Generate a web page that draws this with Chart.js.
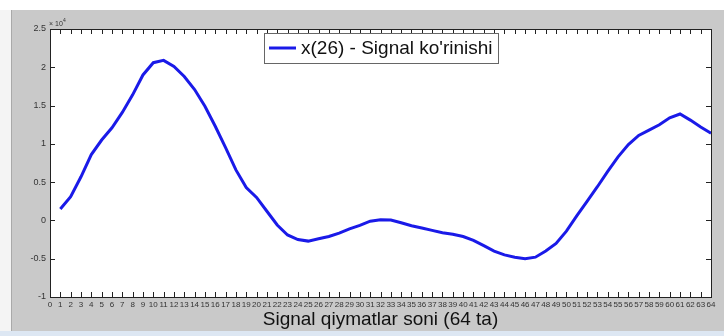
<!DOCTYPE html>
<html>
<head>
<meta charset="utf-8">
<script src="https://cdn.jsdelivr.net/npm/chart.js@4.4.1/dist/chart.umd.min.js"></script>
<style>
  html, body { margin: 0; padding: 0; background: #c9c9c9; }
  #wrap { width: 724px; height: 336px; }
</style>
</head>
<body>
<div id="wrap"><canvas id="chart" width="724" height="336"></canvas></div>
<script>
// signal samples, index 1..64 (raw values, axis shows them x 10^4)
const sampleIdx = [];
for (let i = 1; i <= 64; i++) sampleIdx.push(i);
const signalVals = [
  1500, 3100, 5700, 8600, 10500, 12100, 14100, 16400, 19000, 20600,
  20900, 20100, 18800, 17100, 14900, 12300, 9500, 6600, 4300, 3000,
  1200, -600, -1900, -2500, -2700, -2400, -2100, -1650, -1100, -650,
  -100, 100, 50, -300, -700, -1000, -1300, -1600, -1800, -2100,
  -2600, -3300, -4000, -4500, -4800, -5000, -4800, -4000, -3000, -1400,
  600, 2500, 4400, 6400, 8300, 9900, 11100, 11800, 12500, 13400,
  13900, 13100, 12200, 11400
];
const seriesName = "x(26) - Signal ko'rinishi";
const xTitle = 'Signal qiymatlar soni (64 ta)';
const yMin = -10000, yMax = 25000, yStep = 5000;
const xMin = 0, xMax = 64;
const lineColor = 'rgb(26,26,232)';
const FONT = '"Liberation Sans", Arial, sans-serif';

const points = sampleIdx.map((x, i) => ({ x: x, y: signalVals[i] }));

const frame = { // background, box, inward ticks, legend, exponent
  id: 'frame',
  beforeDraw(chart) {
    const c = chart.ctx, a = chart.chartArea;
    c.save();
    c.fillStyle = '#c9c9c9';
    c.fillRect(0, 0, chart.width, chart.height);
    c.fillStyle = '#ffffff';
    c.fillRect(0, 0, chart.width, 10);
    c.fillStyle = '#f4f4f4';
    c.fillRect(0, 10, 11, chart.height - 10);
    c.fillStyle = '#a9a9a9';
    c.fillRect(11, 10, 1, chart.height - 10);
    c.fillStyle = '#dde7f3';
    c.fillRect(0, 331, chart.width, 5);
    c.fillStyle = '#ffffff';
    c.fillRect(a.left, a.top, a.right - a.left, a.bottom - a.top);
    c.restore();
  },
  afterDraw(chart) {
    const c = chart.ctx, a = chart.chartArea;
    const xs = chart.scales.x, ys = chart.scales.y;
    c.save();
    c.strokeStyle = '#222';
    c.lineWidth = 1;
    c.beginPath();
    xs.ticks.forEach(t => {
      const px = Math.round(xs.getPixelForValue(t.value)) + 0.5;
      c.moveTo(px, a.bottom); c.lineTo(px, a.bottom - 5);
      c.moveTo(px, a.top); c.lineTo(px, a.top + 5);
    });
    ys.ticks.forEach(t => {
      const py = Math.round(ys.getPixelForValue(t.value)) + 0.5;
      c.moveTo(a.left, py); c.lineTo(a.left + 5, py);
      c.moveTo(a.right, py); c.lineTo(a.right - 5, py);
    });
    c.stroke();
    c.strokeRect(Math.round(a.left) + 0.5, Math.round(a.top) + 0.5,
      Math.round(a.right - a.left), Math.round(a.bottom - a.top));

    // legend box, drawn in the top middle of the plot
    c.font = '19px ' + FONT;
    const tw = c.measureText(seriesName).width;
    const bw = Math.round(5 + 27 + 5 + tw + 5);
    const bh = 30;
    const bx = Math.round((a.left + a.right) / 2 - bw / 2);
    const by = Math.round(a.top + 4);
    c.fillStyle = '#fff';
    c.fillRect(bx, by, bw, bh);
    c.strokeStyle = '#666';
    c.strokeRect(bx + 0.5, by + 0.5, bw, bh);
    c.strokeStyle = chart.data.datasets[0].borderColor;
    c.lineWidth = 3;
    c.beginPath();
    c.moveTo(bx + 5, by + bh / 2);
    c.lineTo(bx + 32, by + bh / 2);
    c.stroke();
    c.fillStyle = '#111';
    c.textBaseline = 'middle';
    c.fillText(seriesName, bx + 37, by + bh / 2 + 1);

    // exponent label
    c.fillStyle = '#333';
    c.font = '7px ' + FONT;
    c.textBaseline = 'alphabetic';
    c.fillText('\u00d7 10', a.left - 1, a.top - 3);
    c.font = '5px ' + FONT;
    c.fillText('4', a.left + 13, a.top - 7);
    c.restore();
  }
};

const ctx = document.getElementById('chart');
new Chart(ctx, {
  type: 'line',
  data: {
    datasets: [{
      label: seriesName,
      data: points,
      borderColor: lineColor,
      backgroundColor: lineColor,
      borderWidth: 3,
      pointRadius: 0,
      tension: 0,
      fill: false
    }]
  },
  options: {
    responsive: false,
    animation: false,
    devicePixelRatio: 1,
    layout: { padding: { left: 0, right: 13, top: 29, bottom: 0 } },
    plugins: {
      tooltip: { enabled: false },
      legend: { display: false }
    },
    scales: {
      x: {
        type: 'linear',
        min: xMin,
        max: xMax,
        afterFit(scale) { scale.height = 39; },
        grid: { display: false, drawTicks: false },
        border: { display: false },
        ticks: {
          stepSize: 1,
          autoSkip: false,
          maxRotation: 0,
          padding: 3,
          color: '#333',
          font: { family: FONT, size: 8 }
        },
        title: {
          display: true,
          text: xTitle,
          color: '#111',
          padding: { top: 0, bottom: 5 },
          font: { family: FONT, size: 19 }
        }
      },
      y: {
        min: yMin,
        max: yMax,
        afterFit(scale) { scale.width = 50; },
        grid: { display: false, drawTicks: false },
        border: { display: false },
        ticks: {
          stepSize: yStep,
          padding: 4,
          color: '#333',
          font: { family: FONT, size: 9 },
          callback: v => String(v / 10000)
        }
      }
    }
  },
  plugins: [frame]
});
</script>
</body>
</html>
